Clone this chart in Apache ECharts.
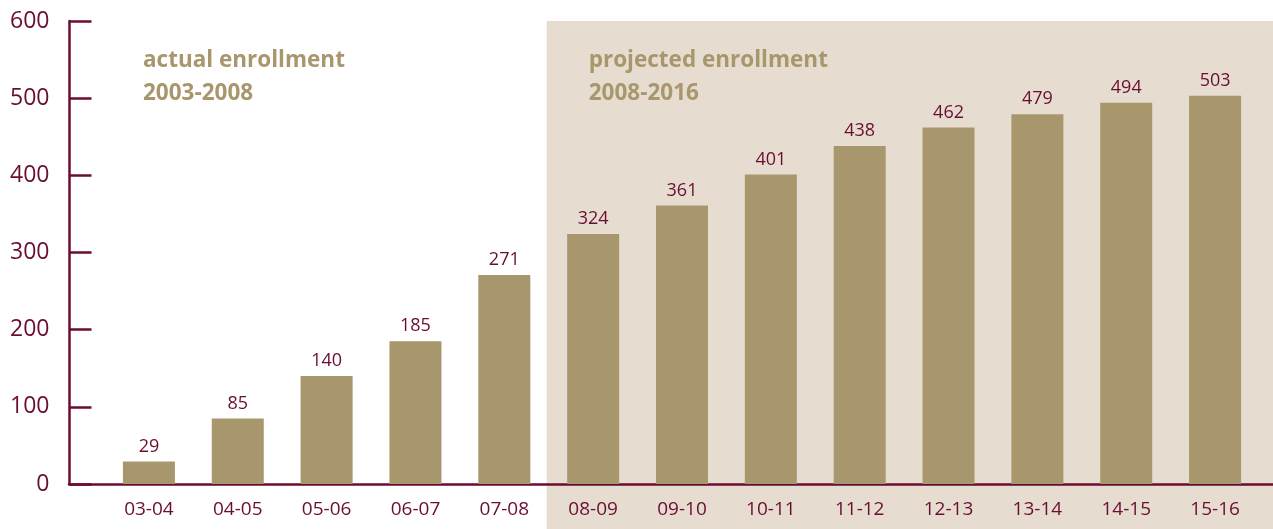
<!DOCTYPE html>
<html>
<head>
<meta charset="utf-8">
<script src="https://cdn.jsdelivr.net/npm/echarts@6/dist/echarts.min.js"></script>
<style>
 html, body { margin: 0; padding: 0; background: #fff; }
 #main { width: 1273px; height: 529px; }
</style>
</head>
<body>
<div id="main"></div>
<script>
var years = ['03-04', '04-05', '05-06', '06-07', '07-08', '08-09', '09-10',
             '10-11', '11-12', '12-13', '13-14', '14-15', '15-16'];
var enrollment = [29, 85, 140, 185, 271, 324, 361, 401, 438, 462, 479, 494, 503];
var firstProjected = 5; // index of '08-09'

var maroon = '#6a0d33';
var tan = '#a8976d';
var shade = '#e6ddd0';
var font = 'Open Sans';

var myChart = echarts.init(document.getElementById('main'));

var option = {
  animation: false,
  grid: [
    { left: 104.5, right: 13.5, top: 21, bottom: 45 },
    { left: 69, right: 0, top: 21, bottom: 45 }
  ],
  xAxis: [{
    type: 'category',
    data: years,
    gridIndex: 0,
    axisLine: { show: false },
    axisTick: { show: false },
    axisLabel: { color: maroon, fontSize: 19, fontFamily: font, margin: 16 }
  }, {
    type: 'value',
    gridIndex: 1,
    min: 0, max: 1,
    axisLine: { show: true, onZero: false, lineStyle: { color: maroon, width: 2.5 } },
    axisTick: { show: false },
    axisLabel: { show: false },
    splitLine: { show: false }
  }],
  yAxis: [{
    type: 'value',
    gridIndex: 0,
    min: 0, max: 600, interval: 100,
    offset: 35,
    axisLine: { show: true, lineStyle: { color: maroon, width: 2.5 } },
    axisTick: { show: true, inside: true, length: 22, lineStyle: { color: maroon, width: 2.5 } },
    axisLabel: { color: maroon, fontSize: 23, fontFamily: font, margin: 20 },
    splitLine: { show: false }
  }, {
    type: 'value',
    gridIndex: 1,
    min: 0, max: 1,
    show: false
  }],
  series: [{
    type: 'bar',
    data: enrollment,
    barWidth: 52,
    itemStyle: { color: tan },
    z: 5,
    label: {
      show: true,
      position: 'top',
      distance: 6,
      color: maroon,
      fontSize: 18,
      fontFamily: font
    }
  }]
};

myChart.setOption(option);

// shaded "projected" region starts at the band edge of the first projected year
var cx = myChart.convertToPixel({ xAxisIndex: 0 }, years[firstProjected]);
var band = myChart.convertToPixel({ xAxisIndex: 0 }, years[1]) - myChart.convertToPixel({ xAxisIndex: 0 }, years[0]);
var shadeLeft = cx - band / 2 - 2;
var topY = myChart.convertToPixel({ yAxisIndex: 0 }, 600);

function note(x, y, lines) {
  return {
    type: 'text',
    left: x, top: y,
    z: 1,
    style: {
      text: lines.join('\n'),
      fill: tan,
      font: 'bold 22.5px "' + font + '"',
      lineHeight: 33
    }
  };
}

myChart.setOption({
  graphic: [
    {
      type: 'rect',
      z: -10,
      shape: { x: shadeLeft, y: topY, width: 1273 - shadeLeft, height: 529 - topY },
      style: { fill: shade }
    },
    note(143, 44, ['actual enrollment', '2003-2008']),
    note(shadeLeft + 42, 44, ['projected enrollment', '2008-2016'])
  ]
});
</script>
</body>
</html>
